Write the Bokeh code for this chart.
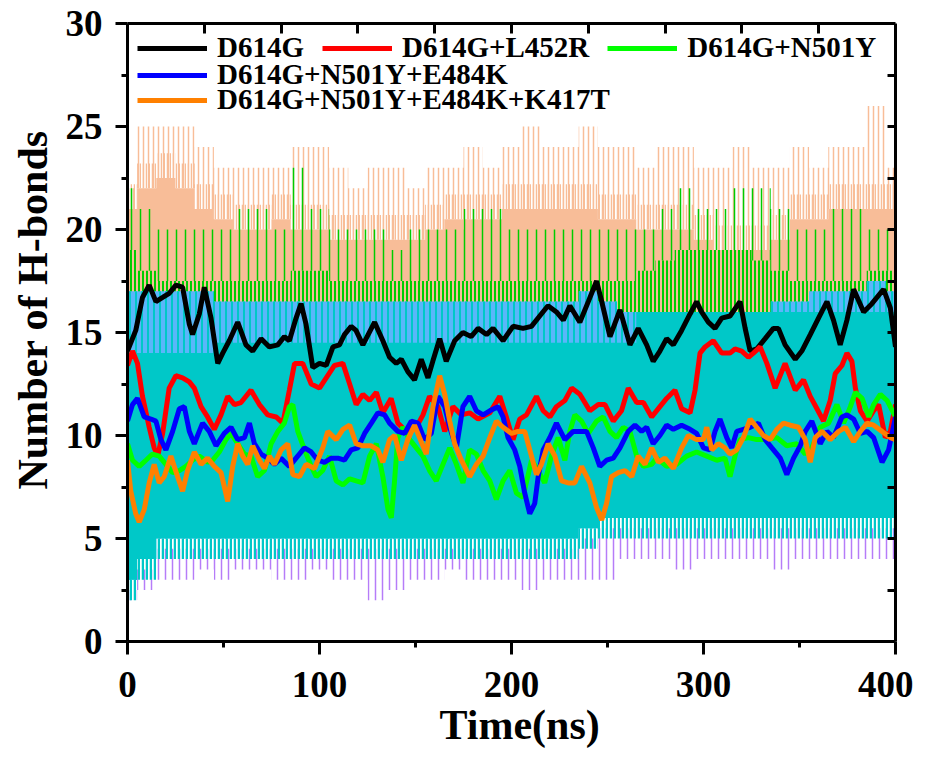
import numpy as np
from bokeh.plotting import figure
from bokeh.models import (Range1d, LinearAxis, FixedTicker, Legend, LegendItem, Title)
from bokeh.embed import file_html
from bokeh.resources import INLINE

# ---------------- smoothed series (time in ns, number of H-bonds) ----------------
black_t = [0, 4.3, 7.8, 11.3, 14.8, 18.3, 21.7, 25.2, 28.7, 32.2, 33.9, 37.4, 40, 43.5, 47, 49.6, 53, 57.4, 61.7, 65.2,
           69.6, 73.9, 78.3, 81.7, 84.3, 87.8, 90.4, 93, 96.5, 100, 103.5, 107, 110.4, 113, 116.5, 119, 122.6, 128.7, 133,
           136.5, 140, 142.6, 146, 149.5, 153, 156.5, 159, 162.6, 166, 170.4, 174.7, 179, 182.6, 187, 190.4, 195.6, 200.8,
           206, 210.4, 214.7, 219, 223.4, 227, 230.4, 235.6, 240, 244.3, 247, 251.3, 256.5, 261.7, 266, 270.4, 273.8,
           277.3, 280.8, 284.3, 288.6, 293, 296.4, 299, 302.5, 306, 309.5, 313.8, 319, 321.7, 324.3, 327.7, 332.1, 336.4,
           339, 342.5, 347.8, 351.2, 355.6, 359.9, 364.3, 367.7, 371.2, 374.7, 378.2, 383.4, 387.7, 393.8, 397.3, 400]
black_v = [14.1, 15.1, 16.7, 17.3, 16.5, 16.7, 16.9, 17.3, 17.2, 15.4, 14.9, 15.9, 17.2, 15.7, 13.5, 14.0, 14.6, 15.5, 14.4, 14.1,
           14.7, 14.3, 14.4, 14.8, 14.6, 15.7, 16.4, 15.4, 13.3, 13.5, 13.4, 14.3, 14.4, 14.9, 15.3, 15.1, 14.4, 15.5, 14.6,
           13.8, 13.5, 13.7, 13.1, 12.7, 13.7, 12.8, 13.6, 14.7, 13.6, 14.6, 15.0, 14.8, 15.2, 14.9, 15.2, 14.6, 15.3,
           15.2, 15.3, 15.8, 16.3, 16.0, 15.6, 16.3, 15.5, 16.5, 17.5, 16.5, 14.8, 16.1, 14.4, 15.2, 14.4, 13.6,
           14.1, 14.7, 14.4, 15.1, 15.9, 16.5, 16.0, 15.5, 15.2, 15.7, 15.8, 16.5, 15.2, 14.1, 14.2, 14.7, 15.2,
           15.2, 14.4, 13.7, 14.1, 14.9, 15.7, 16.5, 15.6, 14.4, 15.6, 17.1, 16.0, 16.4, 17.1, 16.2, 14.3]

red_t = [0, 2.6, 5.2, 7.8, 11.3, 13.9, 15.7, 18.3, 21.7, 25.2, 28.7, 32.2, 34.8, 38.3, 41.7, 45.2, 48.7, 52.2, 55.7, 59.1,
         64.3, 68.7, 73, 77.4, 80.9, 84.3, 87, 91.3, 95.7, 100, 103.5, 107.8, 112.2, 115.7, 119.1, 122.6, 126.1, 129.6,
         133, 137.3, 140.8, 145.2, 150.4, 153.9, 157.3, 161.7, 165.2, 169.5, 173.9, 178.2, 182.6, 188.7, 193.9, 197.3,
         200.8, 204.3, 207.8, 213, 216.5, 220, 223.4, 227.8, 231.3, 235.6, 240.8, 245.2, 248.7, 253, 257.3, 260.8,
         265.2, 268.7, 273, 277.3, 280.8, 285.1, 288.6, 293, 295.6, 298.2, 300.8, 305.1, 309.5, 313.8, 316.4, 319.9,
         323.4, 326, 329.5, 333, 337.3, 342.5, 347.8, 352.1, 355.6, 359.1, 362.5, 366, 368.6, 372.1, 374.7, 377.3,
         379.1, 381.7, 385.2, 388.6, 391.2, 394.7, 397.3, 400]
red_v = [13.4, 14.1, 13.5, 11.9, 10.4, 9.4, 9.0, 10.1, 12.3, 12.9, 12.8, 12.6, 12.3, 11.4, 10.9, 10.3, 11.0, 11.9, 11.5, 11.6,
         12.2, 11.5, 11.0, 10.9, 10.6, 12.2, 13.5, 13.5, 12.5, 12.3, 12.8, 13.4, 13.5, 12.5, 11.5, 12.0, 11.7, 12.1,
         11.1, 11.8, 10.6, 10.2, 10.4, 11.0, 11.9, 11.4, 10.2, 11.4, 11.0, 11.1, 10.8, 11.1, 11.9, 10.9,
         9.8, 10.8, 11.0, 11.9, 11.2, 10.9, 11.4, 11.7, 12.3, 12.0, 11.2, 11.5, 11.5, 10.7, 11.2, 12.3,
         11.6, 11.6, 10.9, 11.4, 11.8, 12.2, 11.3, 11.1, 12.2, 14.0, 14.3, 14.6, 14.0, 14.0, 14.2, 14.1,
         13.8, 14.0, 14.3, 13.5, 12.3, 13.5, 12.2, 12.7, 11.9, 11.3, 10.7, 11.7, 13.0, 13.4, 14.0, 13.6,
         12.3, 11.2, 10.7, 11.2, 11.5, 9.9, 10.2, 11.5]

green_t = [0, 2.6, 6.1, 9.6, 13, 16.5, 20, 23.5, 27, 30.4, 33.9, 37.4, 41.7, 44.3, 47.8, 51.3, 53.9, 57.4, 60.9, 64.3,
           67.8, 71.3, 74.8, 78.3, 81.7, 84.3, 86.1, 88.7, 92.2, 95.7, 98.3, 101.7, 105.2, 108.7, 112.2, 115.7, 119.1,
           122.6, 126.1, 129.6, 133, 135.7, 137.4, 139, 140.8, 143.4, 147, 150.4, 153.9, 157.3, 160.8, 164.3, 167.8,
           171.3, 174.7, 178.2, 181.7, 185.2, 188.7, 192.1, 195.6, 199.1, 202.6, 206, 210.4, 213.9, 217.3, 220.8,
           224.3, 227.8, 230.4, 233, 236.5, 240, 244.3, 247.8, 251.3, 254.7, 258.2, 261.7, 265.2, 268.7, 273, 275.6,
           280.8, 286, 291.2, 296.4, 301.7, 306.9, 311.2, 313.8, 316.4, 319, 323.4, 327.7, 333, 338.2, 343.4, 348.6,
           353, 356.4, 360.8, 365.1, 369.5, 373, 376.5, 379.1, 382.6, 386.1, 388.6, 392.1, 395.6, 400]
green_v = [9.6, 8.8, 8.5, 8.8, 9.1, 9.0, 8.6, 8.2, 8.3, 8.5, 8.8, 9.0, 8.7, 8.8, 9.2, 9.8, 10.1, 9.6, 9.1, 9.0,
           8.0, 8.3, 9.6, 10.2, 10.6, 11.4, 11.5, 10.2, 9.3, 8.5, 8.0, 8.3, 9.0, 7.8, 7.6, 7.9, 7.8,
           7.7, 9.0, 9.6, 8.0, 6.4, 6.0, 7.7, 9.9, 10.4, 9.8, 9.4, 9.0, 8.3, 7.8, 8.6, 9.4,
           8.6, 7.7, 9.3, 9.1, 8.3, 7.8, 6.9, 7.8, 8.3, 7.2, 7.0, 8.8, 8.3, 7.7, 9.0,
           9.9, 8.8, 10.2, 11.0, 10.7, 10.1, 10.7, 10.9, 10.2, 9.9, 10.4, 10.2, 9.0, 8.5, 8.6, 8.9,
           8.5, 8.6, 9.0, 9.2, 9.0, 8.8, 8.9, 8.0, 9.0, 9.8, 9.9, 9.8, 9.8, 9.9, 9.5, 9.6,
           9.1, 9.4, 10.4, 10.6, 11.5, 10.6, 11.4, 12.1, 11.8, 10.9, 11.5, 12.0, 11.7, 10.9]

blue_t = [0, 2.6, 5.2, 8.7, 12.2, 14.8, 17.4, 20, 23.5, 27, 29.6, 32.2, 34.8, 39.1, 42.6, 46.1, 50.4, 53.9, 57.4, 60.9,
          63.5, 66.1, 69.6, 73, 76.5, 80, 84.3, 87.8, 92.2, 95.7, 99.1, 102.6, 106.1, 109.6, 113, 116.5, 120, 123.5,
          127, 130.4, 133.9, 136.5, 140.8, 144.3, 147.8, 151.3, 154.7, 158.2, 161.7, 165.2, 167.8, 171.3, 174.7,
          178.2, 181.7, 185.2, 188.7, 193, 195.6, 198.2, 201.7, 204.3, 206.9, 209.5, 212.1, 213.9, 216.5, 220,
          223.4, 227.8, 232.1, 235.6, 239.1, 242.6, 246, 249.5, 253, 256.5, 260.8, 264.3, 267.8, 270.4, 273.8,
          277.3, 280.8, 284.3, 288.6, 293, 296.4, 300, 303.4, 306, 308.6, 312.1, 314.7, 317.3, 320.8, 324.3, 328.6,
          332.1, 335.6, 340, 343.4, 346.9, 350.4, 353, 356.4, 360.8, 364.3, 367.7, 372.1, 374.7, 378.2, 381.7,
          385.2, 388.6, 393, 396.4, 400]
blue_v = [10.7, 11.5, 11.8, 10.9, 10.8, 10.7, 9.8, 9.3, 10.2, 11.3, 11.4, 10.2, 9.6, 10.6, 10.2, 9.5, 10.1, 10.4, 9.8, 9.9,
          10.6, 9.6, 9.1, 8.9, 8.6, 8.9, 8.5, 8.9, 9.4, 9.2, 8.8, 8.7, 8.9, 8.9, 8.8, 9.3, 9.4, 10.1,
          10.6, 11.1, 11.0, 10.6, 10.2, 10.1, 10.7, 10.6, 9.8, 10.1, 11.9, 11.4, 10.4, 9.4, 11.4,
          11.9, 11.2, 11.0, 11.2, 11.4, 10.9, 9.9, 9.3, 8.5, 7.2, 6.2, 6.7, 8.0, 9.3, 9.9,
          10.6, 9.8, 10.2, 10.2, 10.2, 9.4, 8.5, 8.8, 8.9, 9.4, 10.2, 10.5, 10.2, 10.4, 9.6,
          10.0, 10.5, 10.3, 10.5, 10.3, 10.1, 9.4, 9.3, 10.2, 10.8, 9.9, 9.4, 10.2, 10.3, 10.4, 10.6,
          9.8, 9.4, 8.9, 8.1, 8.9, 9.5, 10.2, 10.7, 9.6, 10.2, 9.9, 10.9, 11.0, 10.8, 10.1,
          10.2, 9.9, 8.7, 9.3, 10.9]

orange_t = [0, 1.7, 4.3, 6.1, 8.7, 11.3, 13.9, 16.5, 19.1, 22.6, 26.1, 28.7, 31.3, 34.8, 38.3, 41.7, 45.2, 48.7, 52.2,
            54.8, 57.4, 60, 62.6, 65.2, 68.7, 71.3, 73.9, 76.5, 80, 83.5, 86.1, 89.6, 93, 97.4, 101.7, 104.3, 108.7,
            112.2, 115.7, 119.1, 122.6, 126.9, 130.4, 133, 136.5, 139.1, 142.6, 146, 149.5, 152.1, 155.6, 159.1,
            162.6, 165.2, 167.8, 170.4, 173.9, 178.2, 181.7, 185.2, 188.7, 192.1, 195.6, 200, 203.4, 206.9, 210.4,
            213, 215.6, 219.1, 222.6, 226.1, 229.5, 233, 236.5, 240.8, 244.3, 247, 249.5, 252.1, 255.6, 259.1, 262.6,
            266, 269.5, 273, 276.5, 279.9, 284.3, 288.6, 292.1, 296.4, 299.9, 301.7, 304.3, 307.7, 311.2, 313.8,
            317.3, 320.8, 324.3, 327.7, 331.2, 334.7, 338.2, 341.7, 345.2, 349.5, 353, 355.6, 358.2, 361.7, 366,
            370.4, 373.9, 378.2, 381.7, 385.2, 388.6, 393, 397.3, 400]
orange_v = [8.8, 7.3, 6.2, 5.8, 6.4, 7.7, 8.6, 7.7, 8.0, 9.0, 8.0, 7.3, 8.3, 9.2, 8.6, 8.9, 8.5, 8.2, 6.8,
            8.5, 9.6, 9.0, 8.6, 9.5, 8.8, 8.4, 9.0, 8.6, 9.3, 9.6, 8.1, 8.0, 8.6, 8.4, 9.4, 10.2, 9.8,
            10.3, 10.5, 9.6, 9.5, 9.5, 9.3, 8.7, 9.8, 10.0, 8.8, 9.8, 10.5, 9.9, 9.1, 11.4,
            12.9, 12.0, 10.7, 9.6, 8.8, 8.0, 8.6, 9.0, 9.9, 10.7, 10.4, 10.1, 10.2, 10.2, 9.0,
            8.1, 8.6, 9.6, 9.0, 7.8, 7.7, 7.7, 8.5, 7.7, 6.5, 5.9, 6.7, 8.0, 8.2, 8.3, 8.0,
            9.0, 8.6, 9.4, 8.7, 8.9, 8.4, 9.4, 10.0, 9.8, 9.8, 10.4, 9.3, 9.6, 9.4, 9.1,
            9.3, 9.9, 10.8, 10.4, 10.0, 9.8, 10.3, 10.6, 10.5, 10.4, 9.8, 8.7, 9.9, 10.2, 9.8,
            10.2, 10.4, 9.7, 10.2, 10.6, 10.5, 10.2, 9.9, 9.8]

# ---------------- raw-trajectory envelopes (every 10 ns) ----------------
band_t = list(range(0, 401, 10))
peach_max = [22, 25, 25, 25, 24, 23, 23, 23, 23, 24, 24, 23, 22, 23, 23, 22, 23, 23, 24, 23, 24,
             25, 24, 24, 25, 24, 24, 23, 24, 24, 23, 23, 24, 23, 23, 24, 23, 24, 24, 26, 23]
peach_top = [21, 22, 22.5, 22, 21, 20.5, 20, 20, 20.5, 20, 20, 19.5, 19.5, 19.5, 19.5, 19.5, 20, 20.5, 20.5, 20.5, 21,
             21, 21, 21, 21, 20.5, 20.5, 20, 20, 20, 19.5, 19, 19, 19, 19.5, 20.5, 20.5, 21, 21, 21, 21]
green_max = [22, 21, 20, 20, 20, 20, 21, 21, 20, 23, 21, 20, 20, 20, 19, 20, 20, 20, 21, 21, 20,
             20, 20, 20, 20, 20, 20, 20, 21, 22, 21, 21, 22, 22, 21, 20, 20, 21, 21, 20, 20]
green_top = [19, 18, 17.5, 17.5, 17.5, 17.5, 17.5, 17.5, 17.5, 18, 18, 17.5, 17.5, 17.5, 17.5, 17.5, 17.5, 17.5, 17.5, 17.5, 17.5,
             17.5, 17.5, 17.5, 17.5, 17.5, 17.5, 18, 18.5, 19, 19, 19, 19, 18.5, 18, 17.5, 17.5, 17.5, 17.5, 18, 18]
lblue_top = [17, 17, 17, 17, 17, 16.5, 16.5, 16.5, 16.5, 16.5, 16.5, 16.5, 16.5, 16.5, 16.5, 16.5, 16.5, 16.5, 16.5, 16.5, 16.5,
             16.5, 16.5, 16.5, 17, 16.5, 16, 16, 16, 16, 16, 16, 16, 16, 16.5, 16.5, 17, 17, 17, 17.5, 17]
cyan_top = [14, 14, 14, 14, 14, 14.5, 14.5, 14.5, 14.5, 14.5, 14.5, 14.5, 14.5, 14.5, 14.5, 14.5, 14.5, 14.5, 14.5, 14.5, 14.5,
            14.5, 14.5, 14.5, 14.5, 14.5, 14.5, 16, 16, 16, 16, 16, 16, 16, 16, 16, 16, 16, 16, 16, 16]
cyan_low = [3, 4, 5, 5, 5, 5, 5, 5, 5, 5, 5, 5, 5, 5, 5, 5, 5, 5, 5, 5, 5,
            5, 5, 5, 5.5, 6, 6, 6, 6, 6, 6, 6, 6, 6, 6, 6, 6, 6, 6, 6, 6]
purple_min = [2, 2.5, 3, 3, 3.5, 3, 3.5, 3.5, 3, 3, 3.5, 3, 3, 2, 2.5, 3, 3, 3.5, 3, 3, 3,
              2.5, 3, 3, 3, 3, 4, 4, 4, 3.5, 4, 4, 4, 4, 3.5, 4, 4, 4, 4, 4, 4]

x_ticks = [0, 100, 200, 300, 400]
y_ticks = [0, 5, 10, 15, 20, 25, 30]
labels = ["D614G", "D614G+L452R", "D614G+N501Y", "D614G+N501Y+E484K", "D614G+N501Y+E484K+K417T"]

FONT = "Liberation Serif"
PEACH, GRN, PURP, LBLUE, CYAN = "#F8BD98", "#00CC00", "#B67CF8", "#5AB6FA", "#00C8C8"

p = figure(frame_width=768, frame_height=618, x_range=Range1d(0, 400), y_range=Range1d(0, 30),
           output_backend="svg", toolbar_location=None,
           min_border_left=125, min_border_top=23, min_border_right=18, min_border_bottom=112)
p.xgrid.visible = False
p.ygrid.visible = False
p.outline_line_color = None
p.background_fill_color = "white"

n = len(band_t)
floor15 = [15] * n
pk = np.array(peach_top, dtype=float)
gt = np.array(green_top, dtype=float)
cl = np.array(cyan_low, dtype=float)

# raw data clouds (vertical stripes imitate the dense spikes)
p.varea_step(x=band_t, y1=pk, y2=np.array(peach_max, float), step_mode="center", fill_alpha=0,
             hatch_pattern="|", hatch_color=PEACH, hatch_scale=5, hatch_weight=1.5)
p.varea_step(x=band_t, y1=pk, y2=pk + 1.2, step_mode="center", fill_alpha=0,
             hatch_pattern="|", hatch_color=PEACH, hatch_scale=3, hatch_weight=1.5)
p.varea_step(x=band_t, y1=floor15, y2=pk, step_mode="center", fill_color=PEACH, fill_alpha=1.0)
p.varea_step(x=band_t, y1=gt, y2=np.array(green_max, float), step_mode="center", fill_alpha=0,
             hatch_pattern="|", hatch_color=GRN, hatch_scale=9, hatch_weight=1.5)
p.varea_step(x=band_t, y1=floor15, y2=gt, step_mode="center", fill_alpha=0,
             hatch_pattern="|", hatch_color=GRN, hatch_scale=4, hatch_weight=2)
p.varea_step(x=band_t, y1=np.array(purple_min, float), y2=cl - 0.5, step_mode="center", fill_alpha=0,
             hatch_pattern="|", hatch_color=PURP, hatch_scale=7, hatch_weight=1.5)
p.varea_step(x=band_t, y1=cl, y2=np.array(lblue_top, float), step_mode="center", fill_color=LBLUE, fill_alpha=1.0,
             hatch_pattern="|", hatch_color=CYAN, hatch_scale=6, hatch_weight=2)
p.varea_step(x=band_t, y1=cl - 1, y2=cl, step_mode="center", fill_alpha=0,
             hatch_pattern="|", hatch_color=CYAN, hatch_scale=4, hatch_weight=2.5)
p.varea_step(x=band_t, y1=cl, y2=np.array(cyan_top, float), step_mode="center", fill_color=CYAN, fill_alpha=1.0)

# smoothed lines
LW = 5
r_black = p.line(black_t, black_v, line_color="#000000", line_width=LW)
r_red = p.line(red_t, red_v, line_color="#FF0000", line_width=LW)
r_green = p.line(green_t, green_v, line_color="#00FF00", line_width=LW)
r_blue = p.line(blue_t, blue_v, line_color="#0000FF", line_width=LW)
r_orange = p.line(orange_t, orange_v, line_color="#FF8000", line_width=LW)

# axes
def style_axis(ax):
    ax.axis_line_width = 3
    ax.axis_line_color = "black"
    ax.major_tick_line_width = 3
    ax.minor_tick_line_width = 3
    ax.major_label_text_font = FONT
    ax.major_label_text_font_style = "bold"
    ax.major_label_text_font_size = "37px"
    ax.major_label_text_color = "black"

xa = p.xaxis[0]
style_axis(xa)
xa.ticker = FixedTicker(ticks=x_ticks, minor_ticks=[50, 150, 250, 350])
xa.major_tick_out = 13
xa.major_tick_in = 0
xa.minor_tick_out = 6
xa.minor_tick_in = 0
xa.major_label_standoff = 17

ya = p.yaxis[0]
style_axis(ya)
ya.ticker = FixedTicker(ticks=y_ticks, minor_ticks=[2.5, 7.5, 12.5, 17.5, 22.5, 27.5])
ya.major_tick_out = 12
ya.major_tick_in = 0
ya.minor_tick_out = 6
ya.minor_tick_in = 0
ya.major_label_standoff = 13

top_ticks = [40, 80, 120, 160, 200, 240, 280, 320, 360]
top = LinearAxis(ticker=FixedTicker(ticks=top_ticks, minor_ticks=[]))
style_axis(top)
top.major_tick_in = 10
top.major_tick_out = 0
top.major_label_overrides = {t: "" for t in top_ticks}
top.major_label_standoff = 0
p.add_layout(top, "above")

right_ticks = [2.5, 5, 7.5, 10, 12.5, 15, 17.5, 20, 22.5, 25, 27.5]
right = LinearAxis(ticker=FixedTicker(ticks=right_ticks, minor_ticks=[]))
style_axis(right)
right.major_tick_in = 8
right.major_tick_out = 0
right.major_label_overrides = {t: "" for t in right_ticks}
right.major_label_standoff = 0
p.add_layout(right, "right")

p.add_layout(Title(text="Number of H-bonds", align="left", offset=152, text_font=FONT, text_color="black",
                   text_font_size="42px", text_font_style="bold", standoff=14), "left")
p.add_layout(Title(text="Time(ns)", align="left", offset=312, text_font=FONT, text_color="black",
                   text_font_size="42px", text_font_style="bold", standoff=0), "below")

def make_legend(items, loc):
    lg = Legend(items=items, location=loc, orientation="horizontal",
                label_text_font=FONT, label_text_font_size="29px", label_text_font_style="bold",
                label_text_color="black",
                glyph_width=70, glyph_height=20, label_standoff=10, spacing=18,
                padding=0, margin=0, border_line_color=None, background_fill_alpha=0)
    p.add_layout(lg)

make_legend([LegendItem(label=labels[0], renderers=[r_black]),
             LegendItem(label=labels[1], renderers=[r_red]),
             LegendItem(label=labels[2], renderers=[r_green])], (10, 577))
make_legend([LegendItem(label=labels[3], renderers=[r_blue])], (10, 550))
make_legend([LegendItem(label=labels[4], renderers=[r_orange])], (10, 525))

open("out.html", "w").write(file_html(p, INLINE))
